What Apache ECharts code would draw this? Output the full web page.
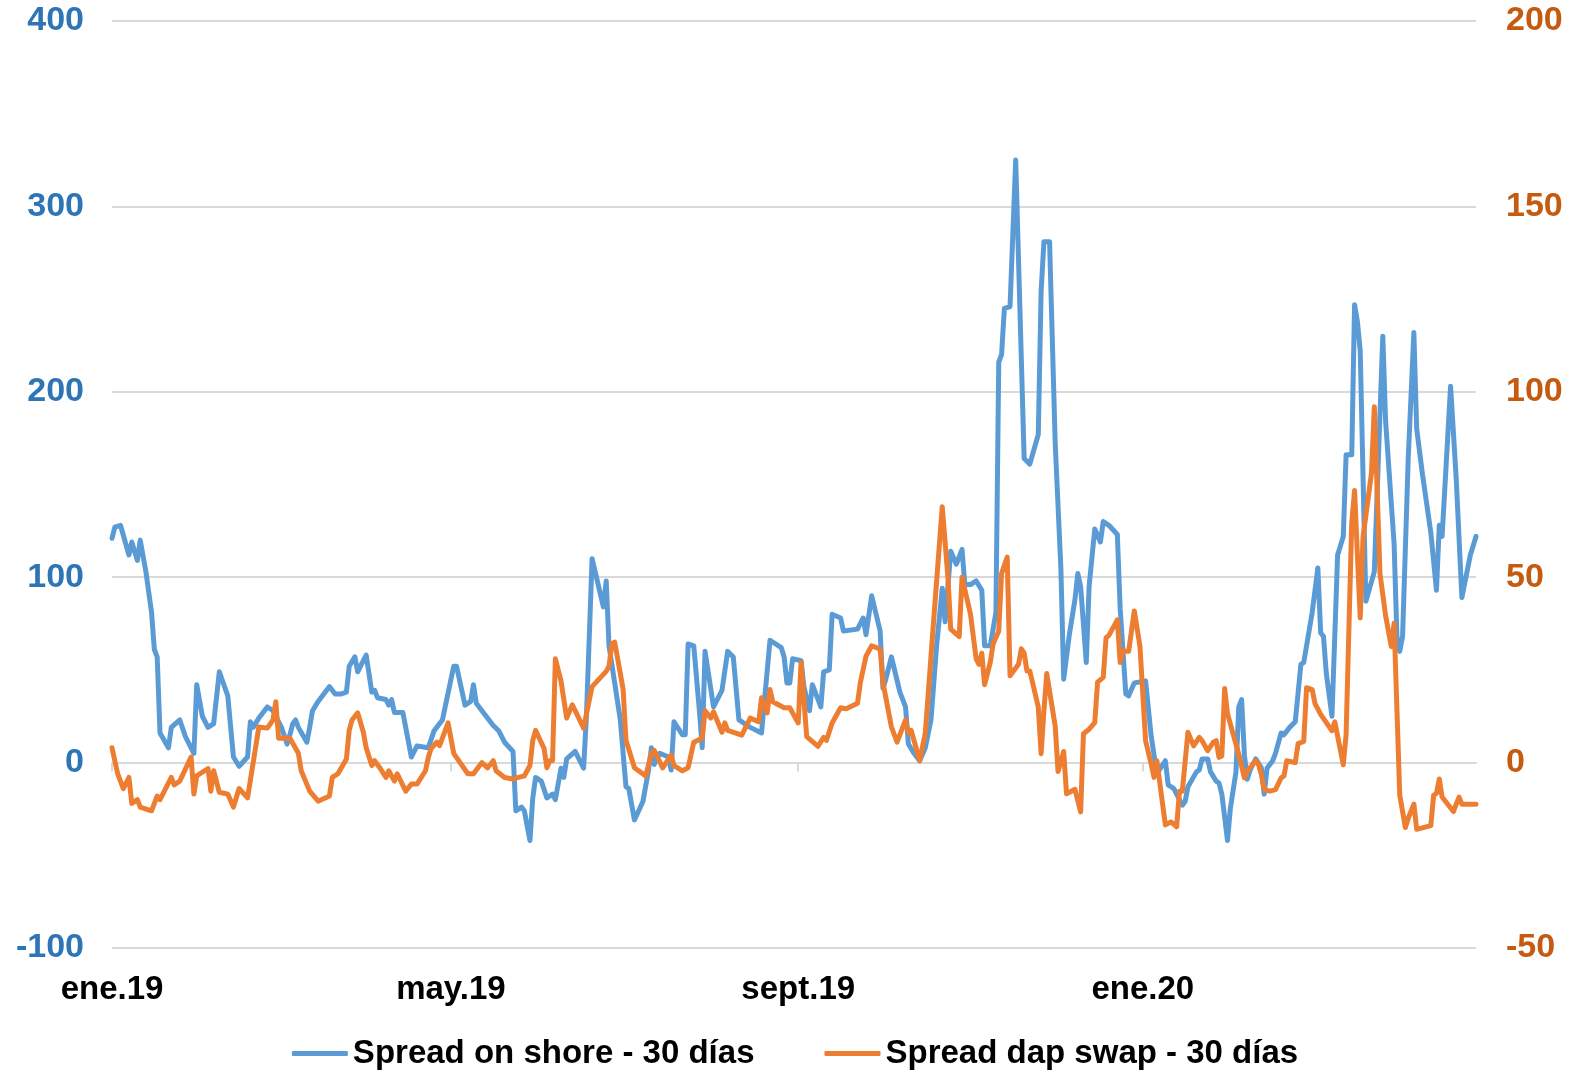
<!DOCTYPE html>
<html lang="es">
<head>
<meta charset="UTF-8">
<title>Spread</title>
<script src="https://cdn.jsdelivr.net/npm/echarts@6/dist/echarts.min.js"></script>
<style>
  html, body { margin: 0; padding: 0; background: #fff; }
  #chart { width: 1590px; height: 1070px; }
</style>
</head>
<body>
<div id="chart"></div>
<script>
// fechas: días desde el 1 de enero de 2019
var startDate = Date.UTC(2019, 0, 1);
var lastDay = 483;

// ene.19, may.19, sept.19, ene.20 (en días desde el inicio)
var labelDays = [0, 120, 243, 365];
var monthNames = ['ene.', 'feb.', 'mar.', 'abr.', 'may.', 'jun.', 'jul.', 'ago.', 'sept.', 'oct.', 'nov.', 'dic.'];

// Spread on shore - 30 días (eje izquierdo)
var onshoreDays = [0, 1, 3, 6, 7, 9, 10, 12, 14, 15, 16, 17, 20, 21, 24, 26, 29, 30, 32, 34, 36, 38, 41, 43, 45, 48, 49, 50, 52, 55, 57, 60, 62, 63, 64, 65, 66, 69, 70, 71, 73, 77, 79, 81, 83, 84, 86, 87, 90, 92, 93, 94, 97, 98, 99, 100, 103, 106, 108, 112, 114, 117, 121, 122, 125, 127, 128, 129, 132, 135, 137, 139, 142, 143, 145, 146, 148, 149, 150, 152, 154, 156, 157, 159, 160, 161, 164, 167, 168, 170, 174, 175, 176, 178, 180, 182, 183, 185, 188, 190, 191, 192, 194, 197, 198, 199, 202, 203, 204, 206, 208, 209, 210, 213, 216, 218, 220, 222, 226, 230, 233, 237, 238, 239, 240, 241, 244, 245, 247, 248, 251, 252, 254, 255, 258, 259, 264, 266, 267, 269, 272, 273, 274, 276, 279, 281, 282, 284, 286, 288, 290, 292, 294, 295, 297, 299, 301, 302, 304, 306, 308, 309, 311, 313, 314, 315, 316, 318, 320, 323, 325, 328, 329, 330, 332, 334, 336, 337, 339, 341, 342, 343, 345, 346, 348, 350, 351, 353, 356, 357, 359, 360, 362, 366, 368, 370, 373, 374, 376, 379, 380, 381, 384, 385, 386, 388, 389, 391, 392, 393, 395, 396, 398, 399, 400, 401, 402, 403, 405, 407, 408, 409, 411, 412, 414, 415, 417, 419, 421, 422, 425, 427, 428, 429, 430, 432, 434, 436, 437, 439, 440, 441, 442, 444, 447, 450, 451, 454, 455, 456, 457, 458, 459, 461, 462, 464, 467, 469, 470, 471, 474, 476, 478, 481, 483];
var onshoreValues = [121, 127, 128, 112, 119, 109, 120, 103, 81, 61, 57, 16, 8, 19, 23, 14, 5, 42, 25, 19, 21, 49, 36, 3, -2, 3, 22, 19, 24, 30, 28, 19, 10, 15, 21, 23, 19, 11, 19, 28, 33, 41, 37, 37, 38, 52, 57, 49, 58, 38, 39, 35, 34, 31, 34, 27, 27, 3, 9, 8, 17, 23, 52, 52, 31, 33, 42, 32, 26, 20, 17, 11, 6, -26, -24, -26, -42, -19, -8, -10, -19, -17, -20, -3, -8, 2, 6, -3, 25, 110, 84, 98, 63, 43, 23, -13, -14, -31, -21, -4, 8, -1, 5, 3, -4, 22, 15, 15, 64, 63, 28, 8, 60, 30, 39, 60, 57, 23, 19, 16, 66, 62, 57, 43, 43, 56, 55, 41, 28, 42, 30, 49, 50, 80, 78, 71, 72, 78, 69, 90, 71, 40, 45, 57, 38, 30, 10, 5, 1, 8, 23, 63, 94, 76, 114, 107, 115, 96, 96, 98, 93, 63, 63, 81, 216, 220, 245, 246, 325, 164, 161, 177, 254, 281, 281, 172, 105, 45, 69, 88, 102, 95, 54, 95, 126, 119, 130, 128, 123, 83, 37, 36, 43, 44, 14, -6, 1, -12, -14, -23, -21, -13, -5, -4, 2, 2, -5, -10, -11, -17, -42, -25, -5, 30, 34, 4, -9, -4, 2, -3, -17, -3, 1, 5, 16, 15, 19, 22, 53, 54, 81, 105, 70, 68, 48, 25, 112, 122, 166, 166, 247, 238, 222, 87, 103, 230, 184, 118, 68, 60, 68, 116, 164, 232, 180, 156, 124, 93, 128, 122, 203, 153, 89, 112, 122];

// Spread dap swap - 30 días (eje derecho)
var dapDays = [0, 2, 4, 6, 7, 9, 10, 14, 16, 17, 21, 22, 24, 28, 29, 30, 34, 35, 36, 38, 41, 43, 45, 48, 52, 55, 57, 58, 59, 63, 66, 67, 70, 73, 77, 78, 80, 83, 84, 85, 87, 89, 90, 92, 93, 95, 97, 98, 100, 101, 104, 106, 108, 111, 112, 113, 115, 116, 119, 121, 126, 128, 131, 133, 135, 136, 139, 142, 146, 148, 149, 150, 153, 154, 155, 156, 157, 159, 161, 163, 167, 170, 175, 176, 177, 178, 181, 182, 185, 189, 191, 192, 195, 198, 199, 202, 204, 206, 209, 210, 212, 213, 216, 217, 218, 223, 226, 229, 230, 232, 233, 234, 238, 240, 243, 244, 246, 250, 252, 253, 255, 258, 260, 264, 265, 267, 269, 272, 273, 276, 278, 281, 282, 283, 286, 288, 291, 294, 296, 297, 300, 301, 304, 306, 307, 308, 309, 311, 312, 314, 315, 317, 318, 321, 322, 323, 324, 325, 328, 329, 330, 331, 334, 335, 337, 338, 341, 343, 344, 346, 348, 349, 351, 352, 353, 356, 357, 358, 360, 362, 364, 366, 368, 369, 370, 373, 375, 377, 378, 379, 381, 383, 385, 386, 388, 390, 391, 392, 393, 394, 395, 397, 399, 401, 402, 405, 406, 407, 408, 410, 412, 414, 415, 416, 419, 420, 422, 423, 425, 426, 428, 432, 433, 436, 437, 439, 440, 442, 443, 446, 447, 449, 451, 453, 454, 456, 458, 459, 461, 462, 467, 468, 469, 470, 471, 475, 476, 477, 478, 481, 483];
var dapValues = [4, -3, -7, -4, -11, -10, -12, -13, -9, -10, -4, -6, -5, 1.5, -8.5, -3.6, -1.6, -7.7, -2.2, -8, -8.5, -12, -7, -9.5, 9.6, 9.3, 11.5, 16.4, 6.6, 6.6, 2.5, -2.2, -7.7, -10.4, -9, -4, -3, 1, 8.7, 11.5, 13.4, 8.2, 4, -0.8, 0.5, -1.6, -4, -2.2, -5, -3, -7.7, -5.8, -5.8, -2.2, 1.4, 3.8, 5.5, 4.6, 10.7, 2.5, -3, -3, 0, -1.4, 0.5, -2.2, -4, -4.4, -3.6, -0.8, 6, 8.7, 3.8, -1.4, 0.5, 0.5, 28, 22, 12, 15.6, 9.3, 20.5, 24.6, 26, 32, 32.5, 19.7, 6, -1.4, -3.6, 2.5, 3.3, -1.4, 2, -0.8, -2.2, -1.4, 5.5, 6.6, 14, 12, 13.7, 8.2, 10.7, 8.7, 7.4, 12, 11, 17.5, 13.4, 19.7, 16.4, 14.8, 14.8, 10.7, 27, 7, 4.4, 6.8, 6, 10.7, 14.8, 14.5, 16, 21.6, 28.7, 31.5, 30.6, 21.6, 9.6, 5.5, 11.5, 8, 8.7, 0.5, 8, 38.8, 69, 50, 36, 34, 50, 40, 28, 26.5, 29.5, 21, 27, 32, 35.5, 51, 55.4, 23.4, 26.5, 30.7, 29.5, 24.7, 24.7, 15, 2.4, 14, 24, 9.8, -2.4, 3, -8.4, -7.2, -13.3, 7.8, 9, 10.8, 21.7, 23, 33.7, 34.3, 38.5, 27, 30, 30, 40.9, 31.4, 5.9, -0.5, -4, 0.5, -16.8, -16, -17.3, -7.7, -7.7, 8.2, 4.5, 6.8, 5.9, 3.2, 5.5, 5.9, 1.4, 1.8, 20, 13.2, 7.7, 2.3, -4.1, -2.3, 0.5, -0.5, -3.2, -7.3, -7.7, -7.3, -4.1, -3.6, 0.5, 0, 5.1, 5.7, 20.2, 19.7, 15.9, 13, 8.6, 11, -0.6, 7.6, 64.7, 73.4, 39, 60.8, 78.2, 96, 51, 39.6, 31.3, 37.6, -8.8, -17.5, -15, -11.2, -18, -17, -8.8, -8.3, -4.4, -9.3, -13.2, -11.2, -9.3, -11.2, -11.2, -11.2];

var leftTicks = [-100, 0, 100, 200, 300, 400];
var rightTicks = [-50, 0, 50, 100, 150, 200];

function pairs(days, values) {
  var res = [];
  for (var i = 0; i < days.length; i++) {
    res.push([days[i], values[i]]);
  }
  return res;
}
function dayLabel(d) {
  var dt = new Date(startDate + d * 86400000);
  return monthNames[dt.getUTCMonth()] + String(dt.getUTCFullYear()).slice(2);
}

var font = "'Liberation Sans', Arial, sans-serif";
var gridRect = { left: 112, right: 114, top: 21, bottom: 122 };

var chart = echarts.init(document.getElementById('chart'));
var option = {
  animation: false,
  backgroundColor: '#ffffff',
  textStyle: { fontFamily: font },
  grid: [
    { left: gridRect.left, right: gridRect.right, top: gridRect.top, bottom: gridRect.bottom },
    { left: gridRect.left, right: gridRect.right, top: gridRect.top, bottom: gridRect.bottom }
  ],
  legend: {
    top: 1032,
    left: 'center',
    icon: 'roundRect',
    itemWidth: 56,
    itemHeight: 5,
    itemGap: 70,
    textStyle: { fontSize: 33, fontWeight: 'bold', color: '#000', fontFamily: font },
    data: ['Spread on shore - 30 días', 'Spread dap swap - 30 días']
  },
  xAxis: [
    {
      type: 'value',
      gridIndex: 0,
      min: 0,
      max: lastDay,
      position: 'bottom',
      axisLine: { show: false, onZero: false },
      axisTick: { show: false },
      splitLine: { show: false },
      axisLabel: {
        customValues: labelDays,
        margin: 25,
        fontSize: 33,
        fontWeight: 'bold',
        color: '#000',
        fontFamily: font,
        hideOverlap: false,
        formatter: function (v) { return dayLabel(v); }
      }
    },
    {
      type: 'value',
      gridIndex: 1,
      min: 0,
      max: lastDay,
      position: 'bottom',
      axisLine: { show: true, onZero: true, lineStyle: { color: '#D9D9D9', width: 2 } },
      axisTick: { show: true, customValues: labelDays, length: 9, lineStyle: { color: '#D9D9D9', width: 2 } },
      axisLabel: { show: false },
      splitLine: { show: false }
    }
  ],
  yAxis: [
    {
      type: 'value',
      gridIndex: 0,
      position: 'left',
      min: leftTicks[0],
      max: leftTicks[leftTicks.length - 1],
      interval: 100,
      axisLine: { show: false },
      axisTick: { show: false },
      splitLine: { show: true, lineStyle: { color: '#D9D9D9', width: 2 } },
      axisLabel: { margin: 28, fontSize: 34, fontWeight: 'bold', color: '#2E75B6', fontFamily: font }
    },
    {
      type: 'value',
      gridIndex: 0,
      position: 'right',
      min: rightTicks[0],
      max: rightTicks[rightTicks.length - 1],
      interval: 50,
      axisLine: { show: false },
      axisTick: { show: false },
      splitLine: { show: false },
      axisLabel: { margin: 30, fontSize: 34, fontWeight: 'bold', color: '#C55A11', fontFamily: font }
    },
    {
      type: 'value',
      gridIndex: 1,
      min: leftTicks[0],
      max: leftTicks[leftTicks.length - 1],
      interval: 100,
      show: false
    }
  ],
  series: [
    {
      name: 'Spread on shore - 30 días',
      type: 'line',
      xAxisIndex: 0,
      yAxisIndex: 0,
      showSymbol: false,
      symbol: 'none',
      color: '#5B9BD5',
      lineStyle: { width: 5, color: '#5B9BD5', cap: 'round', join: 'round' },
      data: pairs(onshoreDays, onshoreValues)
    },
    {
      name: 'Spread dap swap - 30 días',
      type: 'line',
      xAxisIndex: 0,
      yAxisIndex: 1,
      showSymbol: false,
      symbol: 'none',
      color: '#ED7D31',
      lineStyle: { width: 5, color: '#ED7D31', cap: 'round', join: 'round' },
      data: pairs(dapDays, dapValues)
    }
  ]
};
chart.setOption(option);
</script>
</body>
</html>
